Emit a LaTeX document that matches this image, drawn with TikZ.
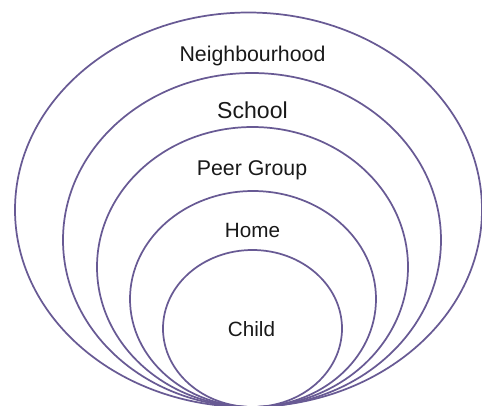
\documentclass[tikz,border=0pt]{standalone}
\usepackage{fontspec}
\setmainfont{Liberation Sans}
\definecolor{ringcol}{RGB}{104,90,148}
\tikzset{every picture/.style={line width=0.75pt}}
\tikzset{ring/.style={draw=ringcol,line width=1.3pt},
  lbl/.style={anchor=base,inner sep=0.75pt,text=black!90}}

\begin{document}
\begin{tikzpicture}[x=0.75pt,y=0.75pt,yscale=-1,xscale=1]
	\useasboundingbox (0,0) rectangle (482,405);
	\clip (0,0) rectangle (482,405);
	
	% rings, outer to inner
	\draw [ring] (248.5,209.75) ellipse [x radius=233.5, y radius=197.25];
	\draw [ring] (252,240) ellipse [x radius=189, y radius=167];
	\draw [ring] (252.5,267) ellipse [x radius=155.5, y radius=140];
	\draw [ring] (253,299) ellipse [x radius=123, y radius=108];
	\draw [ring] (252.5,328.5) ellipse [x radius=89.5, y radius=78.5];
	
	% labels
	\draw (252.5,61.7) node [lbl,font=\fontsize{16}{19}\selectfont] (hood) {Neighbourhood};
	\draw (252.5,118) node [lbl,font=\fontsize{17.3}{20}\selectfont] (school) {School};
	\draw (252,175) node [lbl,font=\fontsize{16}{19}\selectfont] (peer) {Peer Group};
	\draw (252.5,237) node [lbl,font=\fontsize{15.5}{18}\selectfont] (home) {Home};
	\draw (251.5,336.7) node [lbl,font=\fontsize{15.5}{18}\selectfont] (child) {Child};
	
\end{tikzpicture}
\end{document}
